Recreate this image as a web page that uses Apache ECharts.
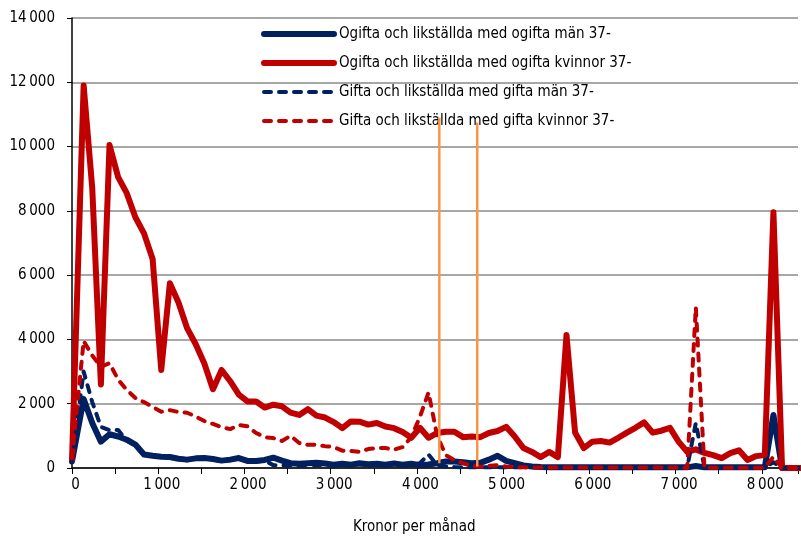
<!DOCTYPE html>
<html>
<head>
<meta charset="utf-8">
<script src="https://cdn.jsdelivr.net/npm/echarts@6/dist/echarts.min.js"></script>
<style>
html,body{margin:0;padding:0;background:#fff;}
#chart{width:801px;height:538px;}
</style>
</head>
<body>
<div id="chart"></div>
<script>
// Kronor per månad (x positions of the points)
var kronor = [0,135,235,335,435,535,635,735,835,935,
  1035,1135,1235,1335,1435,1535,1635,1735,1835,1935,
  2035,2135,2235,2335,2435,2535,2635,2735,2835,2935,
  3035,3135,3235,3335,3435,3535,3635,3735,3835,3935,
  4035,4135,4235,4335,4435,4535,4635,4735,4835,4935,
  5035,5135,5235,5335,5435,5535,5635,5735,5835,5935,
  6035,6135,6235,6335,6435,6535,6635,6735,6835,6935,
  7035,7135,7235,7335,7435,7535,7635,7735,7835,7935,
  8035,8135,8235,8335,8435];

var seriesNames = [
  "Ogifta och likställda med ogifta män 37-",
  "Ogifta och likställda med ogifta kvinnor 37-",
  "Gifta och likställda med gifta män 37-",
  "Gifta och likställda med gifta kvinnor 37-"
];

var ogiftaMan = [200,2150,1400,820,1050,980,880,730,420,380,
  350,340,290,260,300,310,280,230,260,310,
  220,220,250,320,230,150,130,150,160,140,
  100,130,100,150,120,130,100,140,100,130,
  90,110,150,200,200,180,150,160,260,380,
  220,150,80,50,30,20,20,20,20,20,
  20,20,20,20,20,20,20,20,20,20,
  20,20,60,20,20,20,20,20,20,20,
  20,1650,0,0,0];

var ogiftaKvinnor = [250,11900,8700,2600,10050,9050,8550,7800,7300,6500,
  3050,5750,5150,4350,3850,3250,2450,3050,2700,2280,
  2070,2070,1880,1970,1920,1720,1650,1830,1630,1570,
  1430,1240,1450,1440,1350,1400,1290,1240,1120,940,
  1250,940,1090,1130,1130,960,980,960,1090,1150,
  1280,980,620,500,340,500,340,4140,1100,620,
  820,840,790,940,1100,1250,1420,1100,1160,1250,
  820,500,580,470,400,310,460,550,250,370,
  400,7960,0,0,0];

var giftaMan = [200,3000,2050,1280,1180,1180,850,700,400,370,
  330,320,270,240,280,290,260,210,240,290,
  200,200,230,90,80,80,70,100,90,100,
  80,100,90,110,90,100,90,110,90,110,
  150,420,80,50,30,20,20,20,20,20,
  20,20,20,20,20,20,20,20,20,20,
  20,20,20,20,20,20,20,20,20,20,
  20,20,1400,20,20,20,20,20,20,20,
  20,180,0,0,0];

var giftaKvinnor = [300,3950,3500,3150,3260,2750,2430,2180,2050,1900,
  1750,1800,1740,1720,1600,1460,1370,1270,1210,1340,
  1300,1090,960,930,840,1000,780,720,720,680,
  650,540,530,500,590,620,620,570,650,960,
  1590,2350,1000,400,250,150,60,40,70,90,
  50,30,20,15,15,15,15,15,15,15,
  15,15,15,15,15,15,15,15,15,15,
  15,0,5000,0,10,10,10,10,10,10,
  10,350,0,0,0];

// orange marker lines: [kronor, bottom value, top value]
var orangeLines = [[4260, 150, 10900], [4700, 50, 10750]];

var yTicks = [0,2000,4000,6000,8000,10000,12000,14000];

function fmt(v){
  var s = String(Math.round(v));
  return s.replace(/\B(?=(\d{3})+(?!\d))/g, '\u2009');
}
function pairs(arr){ return kronor.map(function(x,i){ return [x, arr[i]]; }); }

var FONT = '"Liberation Sans Narrow", "Arial Narrow", "DejaVu Sans Condensed", sans-serif';
var BLUE = '#002060', RED = '#C00000', ORANGE = '#F79646';
var DASH = [7,8];

var chart = echarts.init(document.getElementById('chart'), null, {renderer:'canvas'});

var series = [
  {name: seriesNames[0], type:'line', data: pairs(ogiftaMan), symbol:'none', z:2,
   lineStyle:{color:BLUE, width:6, cap:'round', join:'round'}, itemStyle:{color:BLUE}},
  {name: seriesNames[1], type:'line', data: pairs(ogiftaKvinnor), symbol:'none', z:3,
   lineStyle:{color:RED, width:6, cap:'round', join:'round'}, itemStyle:{color:RED}},
  {name: seriesNames[2], type:'line', data: pairs(giftaMan), symbol:'none', z:4,
   lineStyle:{color:BLUE, width:4, type:DASH, cap:'round', join:'round'}, itemStyle:{color:BLUE}},
  {name: seriesNames[3], type:'line', data: pairs(giftaKvinnor), symbol:'none', z:5,
   lineStyle:{color:RED, width:4, type:DASH, cap:'round', join:'round'}, itemStyle:{color:RED}}
];
orangeLines.forEach(function(o, k){
  series.push({name:'orange'+k, type:'line', data:[[o[0],o[1]],[o[0],o[2]]], symbol:'none', z:6,
    lineStyle:{color:ORANGE, width:2.5}, itemStyle:{color:ORANGE}, silent:true});
});

chart.setOption({
  animation:false,
  backgroundColor:'#fff',
  grid:{left:72, right:0, top:18, bottom:70, containLabel:false},
  title:{text:'Kronor per månad', left:353, top:520, padding:0,
    textStyle:{fontFamily:FONT, fontSize:15, fontWeight:'normal', color:'#000'}},
  legend:{
    data: [
      {name: seriesNames[0], lineStyle:{width:6, cap:'round'}},
      {name: seriesNames[1], lineStyle:{width:6, cap:'round'}},
      {name: seriesNames[2], lineStyle:{width:4, type:DASH, cap:'round'}},
      {name: seriesNames[3], lineStyle:{width:4, type:DASH, cap:'round'}}
    ],
    orient:'vertical', left:256, top:21, itemWidth:70, itemHeight:14, itemGap:13,
    itemStyle:{opacity:0},
    textStyle:{fontFamily:FONT, fontSize:15, color:'#000', lineHeight:16},
    backgroundColor:'transparent'
  },
  xAxis:{
    type:'value', min:0, max:8420, interval:500,
    axisLine:{show:true, onZero:false, lineStyle:{color:'#000', width:1.5}},
    axisTick:{show:true, length:6, lineStyle:{color:'#000', width:1}},
    splitLine:{show:false},
    axisLabel:{fontFamily:FONT, fontSize:15, color:'#000', margin:10, padding:[0,0,0,7],
      formatter:function(v){ return (v % 1000 === 0) ? fmt(v) : ''; }}
  },
  yAxis:{
    type:'value', min:yTicks[0], max:yTicks[yTicks.length-1], interval:2000,
    axisLine:{show:true, lineStyle:{color:'#000', width:1.5}},
    axisTick:{show:true, length:5, lineStyle:{color:'#000', width:1}},
    splitLine:{show:true, lineStyle:{color:'#8a8a8a', width:1.5}},
    axisLabel:{fontFamily:FONT, fontSize:15, color:'#000', margin:17,
      formatter:function(v){ return fmt(v); }}
  },
  series: series
});
</script>
</body>
</html>
